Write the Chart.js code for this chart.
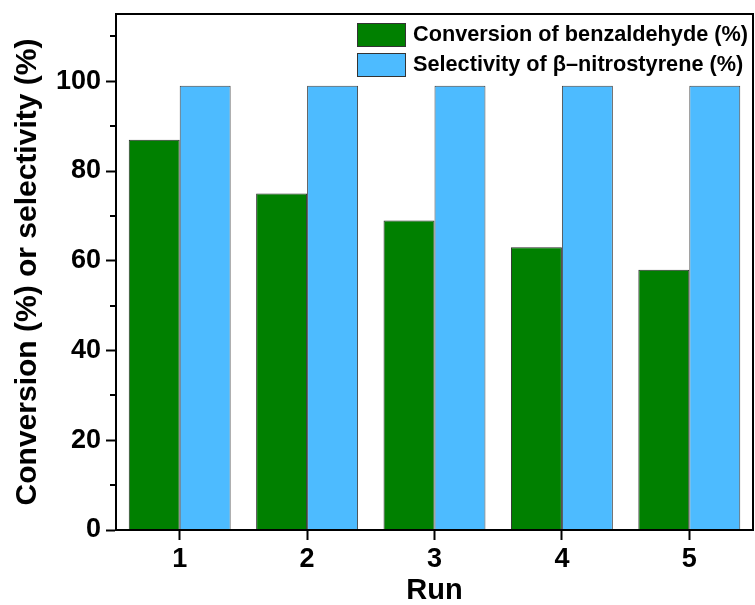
<!DOCTYPE html>
<html>
<head>
<meta charset="utf-8">
<script src="https://cdn.jsdelivr.net/npm/chart.js@4/dist/chart.umd.min.js"></script>
<style>
  html, body { margin: 0; padding: 0; background: #fff; }
  #wrap { width: 755px; height: 605px; position: relative; }
</style>
</head>
<body>
<div id="wrap"><canvas id="c" width="755" height="605"></canvas></div>
<script>
const runs = ['1', '2', '3', '4', '5'];
const conversion = [87, 75, 69, 63, 58];
const selectivity = [99, 99, 99, 99, 99];
const seriesLabels = ['Conversion of benzaldehyde (%)', 'Selectivity of \u03B2\u2013nitrostyrene (%)'];
const yMajorTicks = [0, 20, 40, 60, 80, 100];
const yMinorTicks = [10, 30, 50, 70, 90, 110];

const FONT = "'Liberation Sans', Arial, Helvetica, sans-serif";

const framePlugin = {
  id: 'frame',
  afterDraw(chart) {
    const ctx = chart.ctx;
    const a = chart.chartArea;
    const y = chart.scales.y;
    ctx.save();
    ctx.strokeStyle = '#000';
    ctx.lineWidth = 2;
    ctx.strokeRect(a.left, a.top, a.right - a.left, a.bottom - a.top);
    // minor ticks
    ctx.beginPath();
    yMinorTicks.forEach(v => {
      const py = Math.round(y.getPixelForValue(v));
      ctx.moveTo(a.left, py);
      ctx.lineTo(a.left - 6, py);
    });
    ctx.stroke();
    // legend
    const ds = chart.data.datasets;
    const bx = 357, bw = 48, bh = 23;
    const rows = [23, 53];
    ctx.font = "bold 21.7px " + FONT;
    ctx.textBaseline = 'middle';
    ctx.textAlign = 'left';
    ds.forEach((d, i) => {
      ctx.fillStyle = d.backgroundColor;
      ctx.fillRect(bx, rows[i], bw, bh);
      ctx.lineWidth = 1;
      ctx.strokeStyle = '#333';
      ctx.strokeRect(bx + 0.5, rows[i] + 0.5, bw, bh);
      ctx.fillStyle = '#000';
      ctx.fillText(d.label, 413, rows[i] + bh / 2 + 1);
    });
    ctx.restore();
  }
};

new Chart(document.getElementById('c'), {
  type: 'bar',
  data: {
    labels: runs,
    datasets: [
      { label: seriesLabels[0], data: conversion, backgroundColor: '#008000', borderColor: '#2b2b2b', borderWidth: 1 },
      { label: seriesLabels[1], data: selectivity, backgroundColor: '#4DBBFF', borderColor: '#444', borderWidth: 1 }
    ]
  },
  options: {
    responsive: false,
    animation: false,
    devicePixelRatio: 1,
    categoryPercentage: 0.8,
    barPercentage: 1.0,
    layout: { padding: { top: 14, right: 2, left: 0, bottom: 0 } },
    plugins: { legend: { display: false }, tooltip: { enabled: false } },
    scales: {
      x: {
        type: 'category',
        offset: true,
        grid: { offset: false, drawOnChartArea: false, drawTicks: true, tickLength: 10, tickWidth: 2, tickColor: '#000' },
        border: { display: true, color: '#000', width: 2 },
        ticks: { color: '#000', padding: 6, font: { family: FONT, size: 27, weight: 'bold', lineHeight: 1 } },
        title: { display: true, text: 'Run', color: '#000', font: { family: FONT, size: 29, weight: 'bold', lineHeight: 1 }, padding: { top: 0, bottom: 0 } },
        afterFit(s) { s.height = 75; s.paddingLeft = 0; s.paddingRight = 0; }
      },
      y: {
        min: 0,
        max: 115,
        afterBuildTicks(s) { s.ticks = yMajorTicks.map(v => ({ value: v })); },
        grid: { drawOnChartArea: false, drawTicks: true, tickLength: 10, tickWidth: 2, tickColor: '#000' },
        border: { display: true, color: '#000', width: 2 },
        ticks: { color: '#000', padding: 5, font: { family: FONT, size: 27, weight: 'bold', lineHeight: 1 } },
        title: { display: true, text: 'Conversion (%) or selectivity (%)', color: '#000', font: { family: FONT, size: 30, weight: 'bold', lineHeight: 1.2 }, padding: { top: 10, bottom: 0 } },
        afterFit(s) { s.width = 116; s.paddingTop = 0; s.paddingBottom = 0; }
      }
    }
  },
  plugins: [framePlugin]
});
</script>
</body>
</html>
